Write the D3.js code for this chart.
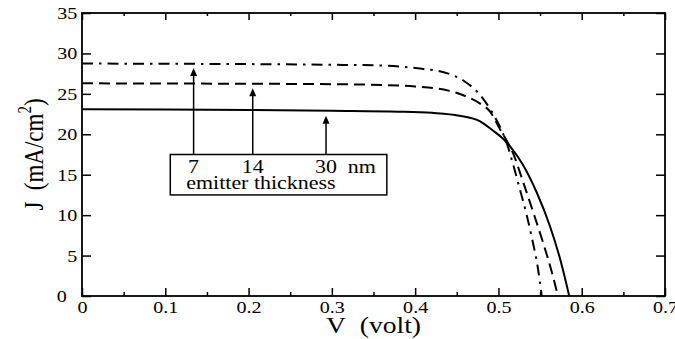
<!DOCTYPE html>
<html>
<head>
<meta charset="utf-8">
<script src="https://cdn.jsdelivr.net/npm/d3@7/dist/d3.min.js"></script>
<style>
  body { margin: 0; background: #fff; }
</style>
</head>
<body>
<div id="chart"></div>
<script>
// J-V curves, [V (volt), J (mA/cm2)]
const curve7nm = [
  [0, 28.75], [0.1, 28.72], [0.2, 28.68], [0.3, 28.6], [0.36, 28.5], [0.4, 28.2],
  [0.44, 27.5], [0.46, 26.5], [0.475, 25.2], [0.487, 23.6], [0.497, 21.9],
  [0.505, 20.2], [0.511, 18.6], [0.517, 16.5], [0.526, 13.1], [0.534, 10.0],
  [0.541, 6.8], [0.547, 3.7], [0.552, 0]
]
const curve14nm = [
  [0, 26.3], [0.1, 26.28], [0.2, 26.25], [0.3, 26.2], [0.36, 26.1], [0.4, 25.9],
  [0.44, 25.4], [0.462, 24.65], [0.478, 23.8], [0.49, 22.8], [0.502, 20.6],
  [0.51, 19.2], [0.517, 17.8], [0.529, 14.3], [0.541, 10.6], [0.553, 6.8],
  [0.564, 3.0], [0.5715, 0]
]
const curve30nm = [
  [0, 23.1], [0.1, 23.05], [0.2, 23.0], [0.3, 22.9], [0.38, 22.8], [0.42, 22.65],
  [0.453, 22.3], [0.478, 21.6], [0.493, 20.5], [0.505, 19.5], [0.517, 18.1],
  [0.529, 16.3], [0.546, 12.8], [0.562, 8.6], [0.574, 4.6], [0.585, 0]
]

const xTicks = [0, 0.1, 0.2, 0.3, 0.4, 0.5, 0.6, 0.7]
const xMinorTicks = [0.05, 0.15, 0.25, 0.35, 0.45, 0.55, 0.65]
const yTicks = [0, 5, 10, 15, 20, 25, 30, 35]

// annotation: arrow x positions (V), arrow tips (J), labels
const arrowV = [0.134, 0.205, 0.293]
const arrowTipJ = [28.2, 25.7, 22.3]
const thicknessLabels = ['7', '14', '30']

const margin = { top: 13, left: 82, right: 10, bottom: 43 }
const height = 339 - margin.top - margin.bottom
const width = 675 - margin.left - margin.right
const stretch = 1.18 // the figure's text is wider than it is tall
const serif = '"Liberation Serif", "Times New Roman", serif'

const svg = d3
  .select('#chart')
  .append('svg')
  .attr('width', width + margin.left + margin.right)
  .attr('height', height + margin.top + margin.bottom)
  .append('g')
  .attr('transform', 'translate(' + margin.left + ',' + margin.top + ')')

const xPositionScale = d3.scaleLinear().domain([0, 0.7]).range([0, width])
const yPositionScale = d3.scaleLinear().domain([0, 35]).range([height, 0])

const line = d3
  .line()
  .x(d => xPositionScale(d[0]))
  .y(d => yPositionScale(d[1]))
  .curve(d3.curveMonotoneX)

// axes, ticks pointing inward
const xAxis = d3.axisBottom(xPositionScale).tickValues(xTicks)
  .tickSizeInner(-8).tickSizeOuter(0).tickPadding(5)
  .tickFormat(d => d === 0 ? '0' : d3.format('.1f')(d))
svg.append('g').attr('class', 'axis x-axis')
  .attr('transform', 'translate(0,' + height + ')').call(xAxis)

svg.append('g').attr('class', 'axis x-minor')
  .attr('transform', 'translate(0,' + height + ')')
  .call(d3.axisBottom(xPositionScale).tickValues(xMinorTicks).tickSizeInner(-4).tickSizeOuter(0).tickFormat(''))

svg.append('g').attr('class', 'axis x-top')
  .call(d3.axisTop(xPositionScale).tickValues(xTicks).tickSizeInner(-7).tickSizeOuter(0).tickFormat(''))
svg.append('g').attr('class', 'axis x-top-minor')
  .call(d3.axisTop(xPositionScale).tickValues(xMinorTicks).tickSizeInner(-3).tickSizeOuter(0).tickFormat(''))

const yAxis = d3.axisLeft(yPositionScale).tickValues(yTicks)
  .tickSizeInner(-9).tickSizeOuter(0).tickPadding(4)
svg.append('g').attr('class', 'axis y-axis').call(yAxis)

svg.append('g').attr('class', 'axis y-right')
  .attr('transform', 'translate(' + width + ',0)')
  .call(d3.axisRight(yPositionScale).tickValues(yTicks).tickSizeInner(-9).tickSizeOuter(0).tickFormat(''))

svg.selectAll('.axis path').remove()
svg.selectAll('.axis line').attr('stroke', '#000').attr('stroke-width', 1.5)
svg.selectAll('.axis text')
  .attr('font-size', 17)
  .attr('fill', '#000')
  .attr('transform', 'scale(' + stretch + ',1)')
// the y "0" sits left of the x "0"
svg.selectAll('.y-axis .tick text').filter(d => d === 0).attr('x', -13)

svg.append('rect')
  .attr('x', 0).attr('y', 0)
  .attr('width', width).attr('height', height)
  .attr('fill', 'none').attr('stroke', '#000').attr('stroke-width', 1.8)

// curves
svg.append('path').datum(curve30nm)
  .attr('d', line).attr('fill', 'none').attr('stroke', '#000').attr('stroke-width', 2)
svg.append('path').datum(curve14nm)
  .attr('d', line).attr('fill', 'none').attr('stroke', '#000').attr('stroke-width', 2)
  .attr('stroke-dasharray', '11,6')
svg.append('path').datum(curve7nm)
  .attr('d', line).attr('fill', 'none').attr('stroke', '#000').attr('stroke-width', 2)
  .attr('stroke-dasharray', '11,6,2.5,6')

// annotation box
const boxLeft = xPositionScale(0.106)
const boxRight = xPositionScale(0.366)
const boxTop = yPositionScale(17.5)
const boxBottom = yPositionScale(12.5)

svg.append('rect')
  .attr('x', boxLeft).attr('y', boxTop)
  .attr('width', boxRight - boxLeft).attr('height', boxBottom - boxTop)
  .attr('fill', '#fff').attr('stroke', '#000').attr('stroke-width', 1.5)

arrowV.forEach(function(v, i) {
  const ax = xPositionScale(v)
  const tip = yPositionScale(arrowTipJ[i])
  svg.append('line')
    .attr('x1', ax).attr('x2', ax)
    .attr('y1', boxTop).attr('y2', tip + 6)
    .attr('stroke', '#000').attr('stroke-width', 1.5)
  svg.append('path')
    .attr('d', 'M' + ax + ',' + tip + 'L' + (ax - 3.5) + ',' + (tip + 8) + 'L' + (ax + 3.5) + ',' + (tip + 8) + 'Z')
    .attr('fill', '#000')
  svg.append('text')
    .attr('transform', 'translate(' + ax + ',' + (boxTop + 18) + ') scale(1.22,1)')
    .attr('text-anchor', 'middle')
    .attr('font-size', 18)
    .text(thicknessLabels[i])
})

svg.append('text')
  .attr('transform', 'translate(' + (boxRight - 39) + ',' + (boxTop + 18) + ') scale(1.22,1)')
  .attr('font-size', 18)
  .text('nm')

svg.append('text')
  .attr('transform', 'translate(' + (boxLeft + 16) + ',' + (boxTop + 34) + ') scale(1.22,1)')
  .attr('font-size', 18)
  .text('emitter thickness')

// axis titles
svg.append('text')
  .attr('transform', 'translate(' + (width / 2) + ',' + (height + 37) + ') scale(1.2,1)')
  .attr('text-anchor', 'middle')
  .attr('font-size', 23)
  .text('V\u00a0\u00a0(volt)')

const yTitle = svg.append('text')
  .attr('transform', 'translate(' + (-39) + ',' + (height / 2) + ') scale(1.2,1) rotate(-90)')
  .attr('text-anchor', 'middle')
  .attr('font-size', 23)
yTitle.append('tspan').text('J\u00a0\u00a0(mA/cm')
yTitle.append('tspan').attr('font-size', 15).attr('dy', -10).text('2')
yTitle.append('tspan').attr('dy', 10).text(')')

svg.selectAll('text').style('font-family', serif).style('fill', '#000')
</script>
</body>
</html>
